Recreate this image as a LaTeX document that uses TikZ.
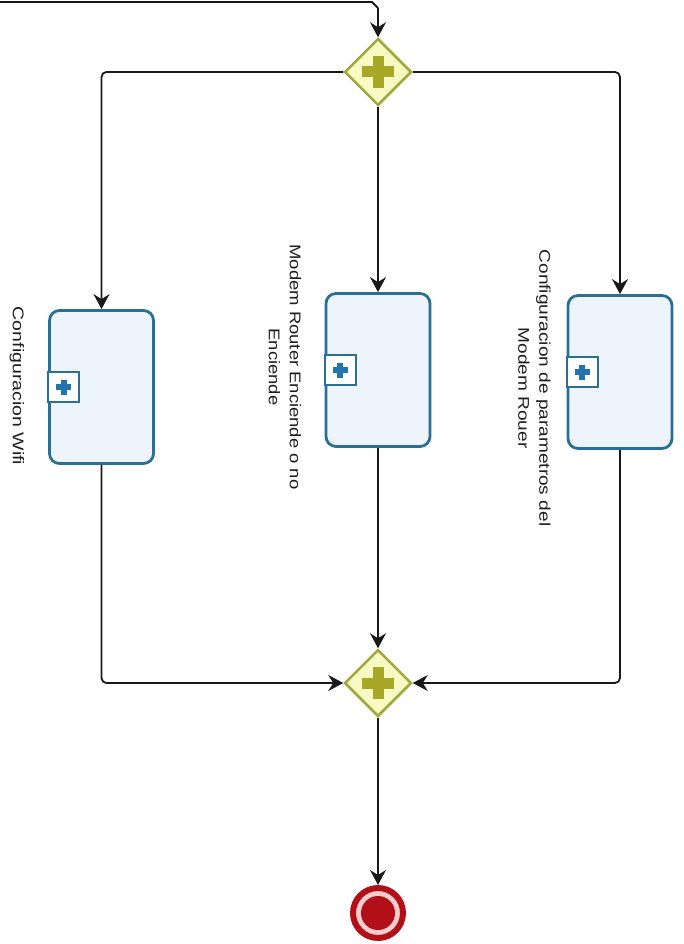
\documentclass[tikz,border=0pt]{standalone}
\usepackage{fontspec}
\setmainfont{Liberation Sans}
\usepackage{graphicx}
\usetikzlibrary{shapes.geometric,arrows.meta}
\definecolor{taskline}{RGB}{42,112,150}
\definecolor{taskfill}{RGB}{238,244,251}
\definecolor{gwline}{RGB}{160,168,60}
\definecolor{gwfill}{RGB}{248,250,196}
\definecolor{gwplus}{RGB}{168,168,40}
\definecolor{mkplus}{RGB}{35,115,175}
\definecolor{endred}{RGB}{178,16,24}
\definecolor{endpink}{RGB}{250,205,205}
\definecolor{flow}{RGB}{25,25,25}
\definecolor{txt}{RGB}{30,30,30}
\begin{document}
\begin{tikzpicture}[x=1pt,y=-1pt,
  task/.style={draw=taskline, fill=taskfill, line width=2.8pt, rounded corners=10pt,
    minimum width=104pt, minimum height=153pt, inner sep=0pt},
  marker/.style={draw=taskline, fill=white, line width=2.2pt},
  mkplus/.style={fill=mkplus},
  gateway/.style={diamond, aspect=1, draw=gwline, fill=gwfill, line width=2.5pt,
    minimum size=67pt, inner sep=0pt},
  gwplusst/.style={fill=gwplus},
  endev/.style={circle, draw=endred, fill=endpink, line width=6pt, minimum size=50pt, inner sep=0pt},
  flowline/.style={draw=flow, line width=1.8pt, rounded corners=5pt,
    -{Stealth[length=15pt,width=16pt,inset=5pt]}},
  plainline/.style={draw=flow, line width=1.8pt},
  lbl/.style={rotate=-90, text=txt, font=\fontsize{15.5}{21}\selectfont, inner sep=0pt}
]
\useasboundingbox (0,0) rectangle (683,944);

% nodes
\node[gateway] (g1) at (378,72) {};
\node[gateway] (g2) at (378,683) {};
\node[task] (t1) at (101.5,387) {};
\node[task] (t2) at (378,370) {};
\node[task] (t3) at (620,372) {};
\node[endev] (end) at (378,913) {};
\fill[endred] (end.center) circle[radius=17pt];

% gateway plus signs
\foreach \g in {g1,g2}{
  \fill[gwplusst] ([shift={(-16pt,-5.5pt)}]\g.center) rectangle ([shift={(16pt,5.5pt)}]\g.center);
  \fill[gwplusst] ([shift={(-5.5pt,-16pt)}]\g.center) rectangle ([shift={(5.5pt,16pt)}]\g.center);
}

% sub-process markers
\foreach \t in {t1,t2,t3}{
  \draw[marker] ([shift={(0pt,-15pt)}]\t.west) rectangle ([shift={(31pt,15pt)}]\t.west);
  \fill[mkplus] ([shift={(8pt,-3pt)}]\t.west) rectangle ([shift={(23pt,3pt)}]\t.west);
  \fill[mkplus] ([shift={(12.5pt,-7.5pt)}]\t.west) rectangle ([shift={(18.5pt,7.5pt)}]\t.west);
}

% labels
\node[lbl] (l1) at (17,386) {\scalebox{1.26}[1]{Configuracion Wifi}};
\node[lbl] (l2) at (283.5,367) {\scalebox{1.19}[1]{\begin{tabular}{@{}c@{}}Modem Router Enciende o no\\Enciende\end{tabular}}};
\node[lbl] (l3) at (533,388) {\scalebox{1.23}[1]{\begin{tabular}{@{}c@{}}Configuracion de parametros del\\Modem Rouer\end{tabular}}};

% connectors
\coordinate (in) at (0,2);
\draw[plainline] (in) -- (372,2) -- (378,8);
\draw[flowline] (378,8) -- (g1.north);
\draw[flowline] (g1.west) -| (t1.north);
\draw[flowline] (g1.south) -- (t2.north);
\draw[flowline] (g1.east) -| (t3.north);
\draw[flowline] (t1.south) |- (g2.west);
\draw[flowline] (t2.south) -- (g2.north);
\draw[flowline] (t3.south) |- (g2.east);
\draw[flowline] (g2.south) -- (end.north);
\end{tikzpicture}
\end{document}
